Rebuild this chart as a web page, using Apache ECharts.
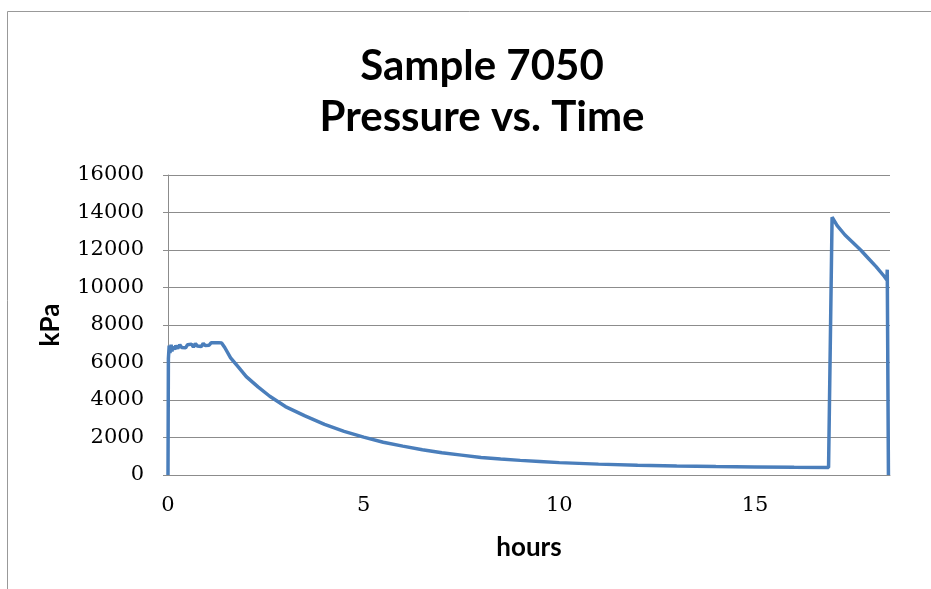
<!DOCTYPE html>
<html>
<head>
<meta charset="utf-8">
<script src="https://cdn.jsdelivr.net/npm/echarts@6/dist/echarts.min.js"></script>
<style>
  html, body { margin: 0; padding: 0; background: #fff; }
  #chart { width: 931px; height: 589px; }
</style>
</head>
<body>
<div id="chart"></div>
<script>
  var TITLE = 'Sample 7050\nPressure vs. Time';
  var X_NAME = 'hours';
  var Y_NAME = 'kPa';

  // time in hours
  var HOURS = [
    0, 0.01, 0.03, 0.05, 0.08, 0.1, 0.13, 0.17, 0.2, 0.25, 0.3, 0.35, 0.4, 0.45,
    0.5, 0.55, 0.6, 0.65, 0.7, 0.75, 0.8, 0.85, 0.9, 0.95, 1.0, 1.05, 1.1, 1.15,
    1.2, 1.25, 1.3, 1.37,
    1.45, 1.6, 1.8, 2.0, 2.3, 2.6, 3.0, 3.5, 4.0, 4.5, 5.0, 5.5, 6.0, 6.5, 7.0,
    7.5, 8.0, 8.5, 9.0, 9.5, 10.0, 11.0, 12.0, 13.0, 14.0, 15.0, 16.0, 16.88,
    16.97, 17.1, 17.3, 17.5, 17.7, 17.9, 18.1, 18.3, 18.37, 18.38, 18.41
  ];
  // pressure in kPa
  var KPA = [
    0, 6200, 6900, 6500, 6950, 6600, 6850, 6700, 6900, 6750, 6950, 6800, 6900, 6780,
    6950, 6850, 6980, 6820, 7000, 6880, 6950, 6850, 7020, 6900, 7000, 6920, 7050, 6950,
    7050, 6980, 7060, 7040,
    6800, 6250, 5750, 5250, 4700, 4200, 3650, 3150, 2700, 2330, 2020, 1750, 1540, 1350, 1190,
    1060, 930, 850, 780, 720, 660, 580, 520, 480, 450, 430, 410, 400,
    13750, 13300, 12800, 12400, 12000, 11550, 11100, 10600, 10400, 10950, 0
  ];

  var X_MIN = 0, X_MAX = 18.45, X_STEP = 5;
  var Y_MIN = 0, Y_MAX = 16000, Y_STEP = 2000;

  var GRID_COLOR = '#8c8c8c';
  var LINE_COLOR = '#4a7ebb';
  var LABEL_FONT = '"DejaVu Serif", serif';
  var BOLD_FONT = 'Lato, "Open Sans", sans-serif';

  var chart = echarts.init(document.getElementById('chart'), null, { renderer: 'canvas' });

  var points = HOURS.map(function (h, i) { return [h, KPA[i]]; });

  chart.setOption({
    animation: false,
    backgroundColor: '#fff',
    graphic: [{
      type: 'rect',
      shape: { x: 7.5, y: 11.5, width: 960, height: 620 },
      style: { fill: 'none', stroke: '#999', lineWidth: 1 },
      silent: true
    }],
    title: {
      text: TITLE,
      left: 477,
      textAlign: 'center',
      top: 36,
      textStyle: {
        fontFamily: BOLD_FONT,
        fontWeight: 'bold',
        fontSize: 42,
        lineHeight: 51,
        color: '#000'
      }
    },
    grid: { left: 168, right: 41, top: 175, bottom: 114 },
    xAxis: {
      type: 'value',
      min: X_MIN,
      max: X_MAX,
      interval: X_STEP,
      name: X_NAME,
      nameLocation: 'middle',
      nameGap: 60,
      nameTextStyle: { fontFamily: BOLD_FONT, fontWeight: 'bold', fontSize: 26, color: '#000' },
      axisLine: { show: true, onZero: false, lineStyle: { color: GRID_COLOR, width: 1 } },
      axisTick: { show: false },
      splitLine: { show: false },
      axisLabel: {
        showMaxLabel: false,
        margin: 20,
        fontFamily: LABEL_FONT,
        fontSize: 21,
        color: '#000'
      }
    },
    yAxis: {
      type: 'value',
      min: Y_MIN,
      max: Y_MAX,
      interval: Y_STEP,
      name: Y_NAME,
      nameLocation: 'middle',
      nameRotate: 90,
      nameGap: 104,
      nameTextStyle: { fontFamily: BOLD_FONT, fontWeight: 'bold', fontSize: 26, color: '#000' },
      axisLine: { show: true, lineStyle: { color: GRID_COLOR, width: 1 } },
      axisTick: { show: true, length: 5, lineStyle: { color: GRID_COLOR } },
      splitLine: { show: true, lineStyle: { color: GRID_COLOR, width: 1 } },
      axisLabel: {
        margin: 24,
        fontFamily: LABEL_FONT,
        fontSize: 21,
        color: '#000',
        formatter: function (v) { return String(v); }
      }
    },
    series: [{
      type: 'line',
      data: points,
      showSymbol: false,
      lineStyle: { color: LINE_COLOR, width: 3.5 },
      itemStyle: { color: LINE_COLOR }
    }]
  });

  window.addEventListener('resize', function () { chart.resize(); });
</script>
</body>
</html>
